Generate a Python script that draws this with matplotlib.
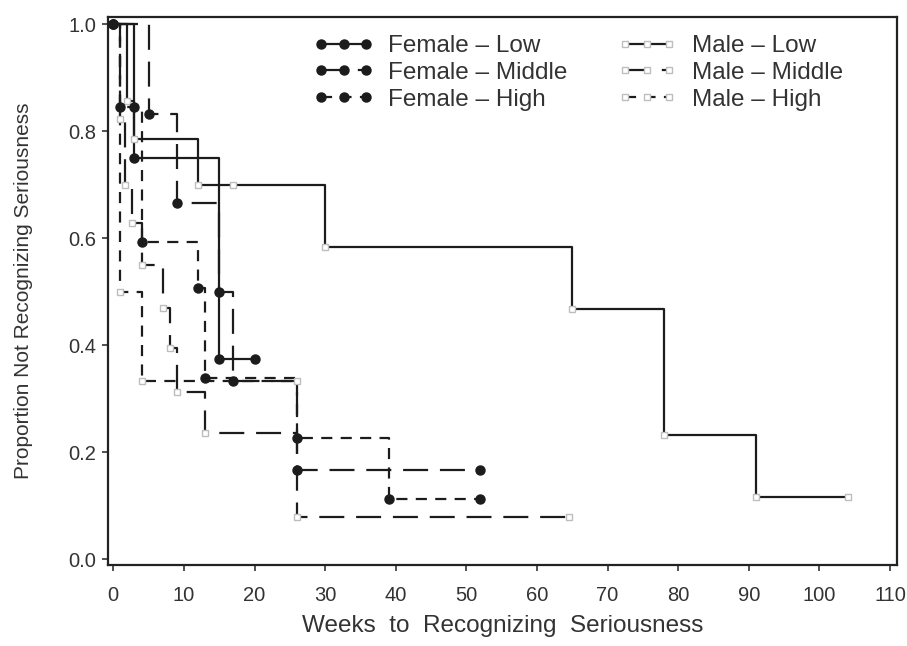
import matplotlib
matplotlib.use('Agg')
import matplotlib.pyplot as plt
from matplotlib.lines import Line2D

plt.rcParams['font.family'] = ['Liberation Sans', 'DejaVu Sans']
plt.rcParams['lines.scale_dashes'] = False

# ---- data (weeks, proportion not recognizing seriousness) ----
female_low_t = [0, 3, 15, 20]
female_low_s = [1.0, 0.75, 0.375, 0.375]
female_mid_t = [0, 5, 9, 15, 17, 26, 52]
female_mid_s = [1.0, 0.833, 0.667, 0.5, 0.333, 0.167, 0.167]
female_high_t = [0, 1, 3, 4, 12, 13, 26, 39, 52]
female_high_s = [1.0, 0.846, 0.846, 0.593, 0.508, 0.339, 0.226, 0.113, 0.113]
male_low_t = [0, 2, 3, 12, 17, 30, 65, 78, 91, 104]
male_low_s = [1.0, 0.857, 0.785, 0.70, 0.70, 0.583, 0.467, 0.233, 0.117, 0.117]
male_mid_t = [0, 1, 1.7, 2.7, 4, 7, 8, 9, 13, 26, 64.5]
male_mid_s = [1.0, 0.824, 0.70, 0.628, 0.55, 0.47, 0.395, 0.313, 0.235, 0.078, 0.078]
male_high_t = [0, 1, 4, 26]
male_high_s = [1.0, 0.5, 0.333, 0.333]

labels = ['Female \u2013 Low', 'Male \u2013 Low',
          'Female \u2013 Middle', 'Male \u2013 Middle',
          'Female \u2013 High', 'Male \u2013 High']

LC = '#1c1c1c'
SOLID = (None, None)
LONG = (18, 8.5)
SHORT = (8, 6)

fig = plt.figure(figsize=(9.07, 6.46), dpi=100)
ax = fig.add_axes([108/907, 81/646, 789/907, 548/646])

def curve(t, s, dashes, female):
    kw = dict(color=LC, lw=1.6, where='post', zorder=2)
    if dashes[0] is None:
        ax.step(t, s, linestyle='-', **kw)
    else:
        ax.step(t, s, linestyle=(0, dashes), **kw)
    if female:
        ax.plot(t, s, linestyle='none', marker='o', ms=6.5, mfc=LC, mec=LC, zorder=4)
    else:
        ax.plot(t, s, linestyle='none', marker='s', ms=5, mfc='white', mec='#bdbdbd',
                mew=1.0, zorder=3)

curve(male_low_t, male_low_s, SOLID, False)
curve(male_mid_t, male_mid_s, LONG, False)
curve(male_high_t, male_high_s, SHORT, False)
curve(female_low_t, female_low_s, SOLID, True)
curve(female_mid_t, female_mid_s, LONG, True)
curve(female_high_t, female_high_s, SHORT, True)

ax.set_xlim(-0.75, 111)
ax.set_ylim(-0.011, 1.014)
ax.set_xticks(range(0, 111, 10))
ax.set_yticks([0.0, 0.2, 0.4, 0.6, 0.8, 1.0])
ax.set_yticklabels(['0.0', '0.2', '0.4', '0.6', '0.8', '1.0'])
ax.tick_params(direction='out', length=4.5, width=1.2, color='#333333',
               labelsize=14.5, labelcolor='#333333')
ax.tick_params(axis='x', pad=10.5)
ax.tick_params(axis='y', pad=4)
for sp in ax.spines.values():
    sp.set_linewidth(1.6)
    sp.set_color('#222222')

ax.set_xlabel('Weeks  to  Recognizing  Seriousness', fontsize=17.5, color='#333333')
ax.xaxis.set_label_coords(0.5, -0.092)
ax.set_ylabel('Proportion Not Recognizing Seriousness', fontsize=15, color='#333333')
ax.yaxis.set_label_coords(-0.095, 0.5)

def handle(dashes, female):
    ls = '-' if dashes[0] is None else (0, dashes)
    if female:
        return Line2D([], [], color=LC, lw=1.6, linestyle=ls, marker='o', ms=6.5,
                      mfc=LC, mec=LC)
    return Line2D([], [], color=LC, lw=1.6, linestyle=ls, marker='s', ms=5,
                  mfc='white', mec='#bdbdbd')

handles = [handle(SOLID, True), handle(SOLID, False),
           handle(LONG, True), handle(LONG, False),
           handle(SHORT, True), handle(SHORT, False)]
# column 1 = female, column 2 = male
order = [0, 2, 4, 1, 3, 5]
fig.legend([handles[i] for i in order], [labels[i] for i in order],
           loc='upper left', bbox_to_anchor=(314/907, 1 - 35/646), ncol=2,
           frameon=False, fontsize=17.5, numpoints=3, handlelength=2.43,
           handletextpad=0.62, columnspacing=2.06, labelspacing=0.2,
           borderpad=0, borderaxespad=0, labelcolor='#333333')

fig.savefig('out.png', dpi=100)
